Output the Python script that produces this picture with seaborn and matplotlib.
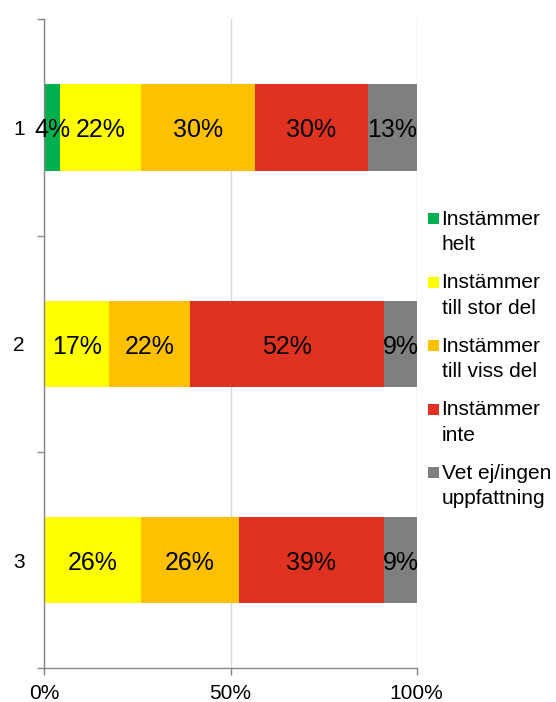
import matplotlib
matplotlib.use("Agg")
import matplotlib.pyplot as plt
import matplotlib.transforms as mtransforms
import seaborn as sns
import pandas as pd
import numpy as np
from matplotlib.patches import Rectangle
from matplotlib.legend_handler import HandlerBase

# ---- data ----
categories = ["1", "2", "3"]
series_names = ["Instämmer\nhelt", "Instämmer\ntill stor del", "Instämmer\ntill viss del",
                "Instämmer\ninte", "Vet ej/ingen\nuppfattning"]
helt = [4.35, 0.0, 0.0]
stor = [21.74, 17.39, 26.09]
viss = [30.43, 21.74, 26.09]
inte = [30.43, 52.17, 39.13]
vetej = [13.04, 8.70, 8.70]
colors = ["#00B050", "#FFFF00", "#FFC000", "#E03221", "#7F7F7F"]
x_ticks = [0, 50, 100]
x_tick_labels = ["0%", "50%", "100%"]

sns.set_theme(style="white")
plt.rcParams["font.family"] = ["Liberation Sans", "DejaVu Sans"]
plt.rcParams["text.color"] = "black"
plt.rcParams["xtick.labelcolor"] = "black"
plt.rcParams["ytick.labelcolor"] = "black"

fig = plt.figure(figsize=(5.56, 7.02), dpi=100)
ax = fig.add_axes([44.3 / 556, (702 - 668.3) / 702, 372.4 / 556, 649 / 702])

series = [helt, stor, viss, inte, vetej]
cum = np.cumsum(np.array(series), axis=0)

# overlay cumulative bars, longest first
for i in range(len(series) - 1, -1, -1):
    df = pd.DataFrame({"cat": categories, "val": cum[i]})
    sns.barplot(data=df, x="val", y="cat", order=categories, orient="h",
                color=colors[i], width=0.4, saturation=1, linewidth=0,
                errorbar=None, ax=ax)

# data labels
label_tr = ax.transData + mtransforms.ScaledTranslation(0, -0.03, fig.dpi_scale_trans)
for i, vals in enumerate(series):
    for j, v in enumerate(vals):
        if v > 0:
            ax.text(cum[i][j] - v / 2, j, f"{round(v):.0f}%", ha="center",
                    va="center", fontsize=18, color="black", zorder=5,
                    transform=label_tr)

ax.set_xlim(0, 100)
ax.set_ylim(2.5, -0.5)
ax.set_xticks(x_ticks, x_tick_labels)
ax.set_yticks([-0.5, 0.5, 1.5, 2.5])
ax.set_yticklabels([])
ax.set_yticks([0, 1, 2], minor=True)
ax.set_yticklabels(categories, minor=True)
ax.set_xlabel("")
ax.set_ylabel("")

ax.xaxis.grid(True, color="#D9D9D9", linewidth=1)
ax.yaxis.grid(False)
ax.set_axisbelow(True)
for s in ["top", "right"]:
    ax.spines[s].set_visible(False)
for s in ["left", "bottom"]:
    ax.spines[s].set_color("#868686")
    ax.spines[s].set_linewidth(1)

ax.tick_params(axis="x", which="major", direction="out", length=5, width=1,
               color="#868686", labelsize=15, pad=6, bottom=True)
ax.tick_params(axis="y", which="major", direction="out", length=5, width=1,
               color="#868686", left=True)
ax.tick_params(axis="y", which="minor", length=0, labelsize=15, pad=14, left=True)


class FirstLineSquare(HandlerBase):
    def legend_artist(self, legend, orig_handle, fontsize, handlebox):
        size = 0.53 * fontsize
        lift = 10.9
        r = Rectangle((0, lift), size, size,
                      facecolor=orig_handle.get_facecolor(), edgecolor="none",
                      transform=handlebox.get_transform())
        handlebox.add_artist(r)
        return r


handles = [Rectangle((0, 0), 1, 1, facecolor=c) for c in colors]
leg = fig.legend(handles, series_names, loc="upper left",
                 bbox_to_anchor=(428 / 556, 0.701), frameon=False, fontsize=15,
                 handlelength=0.55, handletextpad=0.1, labelspacing=0.92,
                 borderpad=0, borderaxespad=0,
                 handler_map={Rectangle: FirstLineSquare()})
for t in leg.get_texts():
    t.set_linespacing(1.42)

fig.savefig("out.png", dpi=100)
